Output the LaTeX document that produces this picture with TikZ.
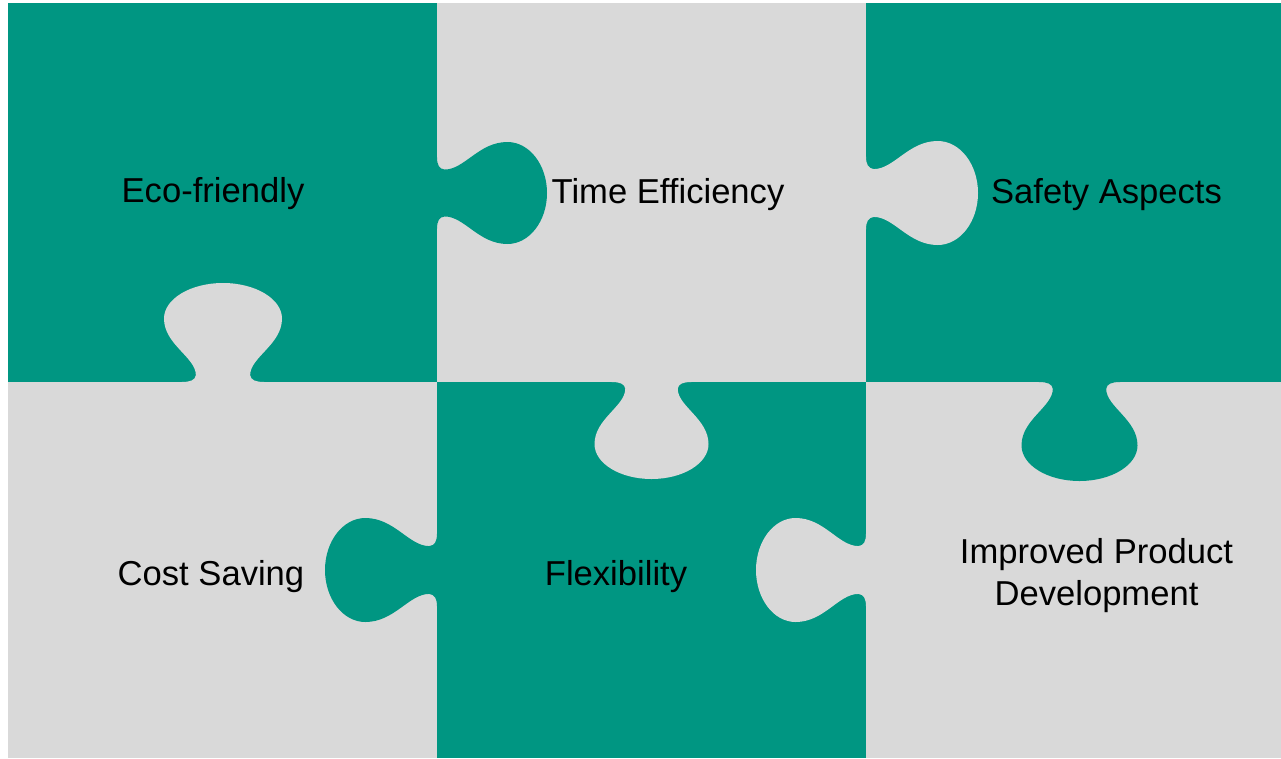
\documentclass[tikz,border=0pt]{standalone}
\usepackage{fontspec}
\setmainfont{Liberation Sans}
\usepackage{tikz}
\tikzset{
    textnode/.style  = {draw=none, fill=none, rectangle, inner sep = 0em, 
      font=\fontsize{34.6}{41.5}\selectfont},
    greenpiece/.style = {fill=tealgreen},
    graypiece/.style = {fill=gra},
    every text node part/.style={align=center}
}
\definecolor{tealgreen}{RGB}{0, 150, 130}
\definecolor{gra}{RGB}{217, 217, 217}

% one knob: colour, root on the edge, direction, depth, half width
\newcommand{\puzzletab}[5]{%
  \fill[#1, shift={#2}, rotate=#3, xscale=#4, yscale=#5]
    (-0.05,-0.70) -- (0,-0.70) .. controls (0,-0.55) and (0.02,-0.47) .. (0.07,-0.46)
    .. controls (0.25,-0.46) and (0.38,-1) .. (0.64,-1)
    .. controls (0.84,-1) and (1,-0.55) .. (1,0)
    .. controls (1,0.55) and (0.84,1) .. (0.64,1)
    .. controls (0.38,1) and (0.25,0.46) .. (0.07,0.46)
    .. controls (0.02,0.47) and (0,0.55) .. (0,0.70) -- (-0.05,0.70) -- cycle;
}

\begin{document}
\begin{tikzpicture}[x=1pt, y=-1pt]
\fill[white] (0,0) rectangle (1281,758);
\useasboundingbox (0,0) rectangle (1281,758);

% pieces
\fill[greenpiece] (8,3) rectangle (437,382);
\fill[graypiece] (437,3) rectangle (866,382);
\fill[greenpiece] (866,3) rectangle (1281,382);
\fill[graypiece] (8,382) rectangle (437,758);
\fill[greenpiece] (437,382) rectangle (866,758);
\fill[graypiece] (866,382) rectangle (1281,758);

% knobs
\puzzletab{tealgreen}{(437,193)}{0}{110}{51}
\puzzletab{gra}{(866,193)}{0}{112}{52}
\puzzletab{gra}{(223,382)}{90}{99}{59}
\puzzletab{gra}{(651.5,382)}{-90}{97}{57}
\puzzletab{tealgreen}{(1079.5,382)}{-90}{99}{58}
\puzzletab{tealgreen}{(437,570)}{180}{112}{52}
\puzzletab{gra}{(866,570)}{180}{110}{52}

\node [textnode, name=eco, anchor=base] at (213,202) {Eco-friendly};
\node [textnode, name=time, anchor=base] at (668,203) {Time Efficiency};
\node [textnode, name=safety, anchor=base] at (1106.5,203) {Safety Aspects};
\node [textnode, name=cost, anchor=base] at (211,585) {Cost Saving};
\node [textnode, name=flex, anchor=base] at (616,585) {Flexibility};
\node [textnode, name=improved] at (1096.5,575.5) {Improved Product\\Development};
\end{tikzpicture}
\end{document}
